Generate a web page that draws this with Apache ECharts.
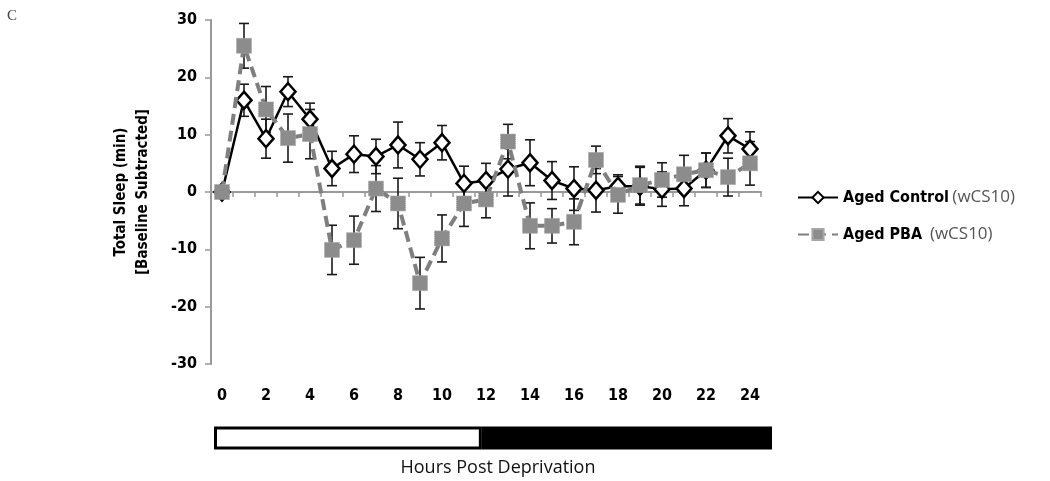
<!DOCTYPE html>
<html><head><meta charset="utf-8">
<script src="https://cdn.jsdelivr.net/npm/echarts@6/dist/echarts.min.js"></script>
<style>html,body{margin:0;padding:0;background:#fff}#c{width:1050px;height:481px}</style>
</head><body><div id="c"></div>
<script>
const hours = ['0','1','2','3','4','5','6','7','8','9','10','11','12','13','14','15','16','17','18','19','20','21','22','23','24'];
const controlMean = [0, 16, 9.3, 17.5, 12.7, 4.1, 6.6, 6.2, 8.2, 5.7, 8.6, 1.5, 2.0, 4.0, 5.1, 2.0, 0.6, 0.3, 1.0, 1.0, 0.5, 0.6, 3.8, 9.8, 7.5];
const controlErr  = [0, 2.8, 3.4, 2.6, 2.8, 3.0, 3.2, 3.0, 4.0, 2.9, 3.0, 3.0, 3.0, 4.7, 4.0, 3.3, 3.8, 3.8, 2.0, 3.3, 3.0, 3.0, 3.0, 3.0, 3.0];
const pbaMean = [0, 25.5, 14.4, 9.4, 10.1, -10.1, -8.4, 0.6, -2.0, -15.9, -8.1, -2.0, -1.3, 8.8, -5.9, -5.9, -5.2, 5.6, -0.5, 1.2, 2.1, 3.1, 3.8, 2.6, 5.0];
const pbaErr  = [0, 3.9, 4.0, 4.2, 4.3, 4.3, 4.2, 4.0, 4.4, 4.5, 4.1, 4.0, 3.2, 3.0, 4.0, 3.0, 4.0, 2.4, 3.2, 3.3, 3.0, 3.3, 3.0, 3.3, 3.8];
const seriesNames = ['Aged Control', 'Aged PBA'];
const seriesSuffix = ['(wCS10)', ' (wCS10)'];
const phaseHours = [12, 13]; // light, dark slots
const yTicks = {min: -30, max: 30, interval: 10};
const yName = 'Total Sleep (min)\n[Baseline Subtracted]';
const xName = 'Hours Post Deprivation';

const chart = echarts.init(document.getElementById('c'));
const boldFont = '"Liberation Sans Narrow", "DejaVu Sans Condensed", sans-serif';

function errData(mean, err) { return mean.map((m, i) => [i, m, err[i]]); }
function errRender(params, api) {
  const x = api.value(0), m = api.value(1), e = api.value(2);
  if (!e) return null;
  const top = api.coord([x, m + e]), bot = api.coord([x, m - e]);
  const hw = 5;
  const st = {stroke: '#1a1a1a', lineWidth: 1.6};
  return {type: 'group', children: [
    {type: 'line', shape: {x1: top[0], y1: top[1], x2: bot[0], y2: bot[1]}, style: st},
    {type: 'line', shape: {x1: top[0]-hw, y1: top[1], x2: top[0]+hw, y2: top[1]}, style: st},
    {type: 'line', shape: {x1: bot[0]-hw, y1: bot[1], x2: bot[0]+hw, y2: bot[1]}, style: st}
  ]};
}

chart.setOption({
  animation: false,
  title: [
    {text: 'C', left: 2, top: 4, textStyle: {fontFamily: '"Liberation Serif", serif', fontWeight: 'normal', fontSize: 15, color: '#444'}},
    {text: xName, left: 493, top: 454, textAlign: 'center', textStyle: {fontFamily: '"Open Sans", sans-serif', fontWeight: 'normal', fontSize: 18, color: '#111'}}
  ],
  grid: [
    {left: 211, width: 550, top: 20, height: 344},
    {left: 214, width: 558, top: 426, height: 24}
  ],
  legend: {
    data: seriesNames, orient: 'vertical', left: 792, top: 184, itemGap: 20,
    itemWidth: 40, itemHeight: 14,
    formatter: function (name) { const i = seriesNames.indexOf(name); return '{b|' + name + '} {n|' + seriesSuffix[i] + '}'; },
    textStyle: {rich: {
      b: {fontFamily: boldFont, fontWeight: 'bold', fontSize: 16, color: '#000'},
      n: {fontFamily: '"Open Sans", sans-serif', fontSize: 17, color: '#555'}
    }}
  },
  xAxis: [
    {type: 'category', data: hours, gridIndex: 0, position: 'bottom', boundaryGap: true,
     axisLine: {onZero: true, lineStyle: {color: '#999', width: 2}},
     axisTick: {show: true, length: 5, lineStyle: {color: '#999', width: 1.5}},
     axisLabel: {show: false}, splitLine: {show: false}},
    {type: 'category', data: hours, gridIndex: 0, position: 'bottom', boundaryGap: true,
     axisLine: {show: false, onZero: false}, axisTick: {show: false},
     axisLabel: {interval: 1, margin: 24, fontFamily: boldFont, fontWeight: 'bold', fontSize: 16, color: '#000'}},
    {type: 'value', gridIndex: 1, min: 0, max: 25, show: false}
  ],
  yAxis: [
    {type: 'value', gridIndex: 0, min: yTicks.min, max: yTicks.max, interval: yTicks.interval,
     name: yName, nameLocation: 'middle', nameRotate: 90, nameGap: 57,
     nameTextStyle: {fontFamily: boldFont, fontWeight: 'bold', fontSize: 15, lineHeight: 22, color: '#000'},
     axisLine: {show: true, lineStyle: {color: '#999', width: 2}},
     axisTick: {show: true, length: 6, lineStyle: {color: '#999', width: 1.5}},
     axisLabel: {margin: 14, fontFamily: boldFont, fontWeight: 'bold', fontSize: 16, color: '#000'},
     splitLine: {show: false}},
    {type: 'category', gridIndex: 1, data: ['phase'], show: false}
  ],
  series: [
    {type: 'custom', name: 'errPBA', xAxisIndex: 0, yAxisIndex: 0, renderItem: errRender, data: errData(pbaMean, pbaErr), z: 1, silent: true},
    {type: 'custom', name: 'errCtl', xAxisIndex: 0, yAxisIndex: 0, renderItem: errRender, data: errData(controlMean, controlErr), z: 1, silent: true},
    {type: 'line', name: seriesNames[0], data: controlMean, xAxisIndex: 0, yAxisIndex: 0, z: 3,
     showSymbol: true, showAllSymbol: true,
     symbol: 'diamond', symbolSize: [15, 17],
     lineStyle: {color: '#000', width: 2.5},
     itemStyle: {color: '#fff', borderColor: '#000', borderWidth: 2.5}},
    {type: 'line', name: seriesNames[1], data: pbaMean, xAxisIndex: 0, yAxisIndex: 0, z: 4,
     showSymbol: true, showAllSymbol: true,
     symbol: 'rect', symbolSize: 15,
     lineStyle: {color: '#7f7f7f', width: 4, type: [11, 6]},
     itemStyle: {color: '#8c8c8c', borderColor: '#a6a6a6', borderWidth: 1, borderType: 'dotted'}},
    {type: 'bar', name: 'light', xAxisIndex: 2, yAxisIndex: 1, stack: 'ph', data: [phaseHours[0]], barWidth: 23,
     itemStyle: {color: '#fff', borderColor: '#000', borderWidth: 3}, silent: true},
    {type: 'bar', name: 'dark', xAxisIndex: 2, yAxisIndex: 1, stack: 'ph', data: [phaseHours[1]], barWidth: 23,
     itemStyle: {color: '#000', borderColor: '#000', borderWidth: 3}, silent: true}
  ]
});
</script></body></html>
